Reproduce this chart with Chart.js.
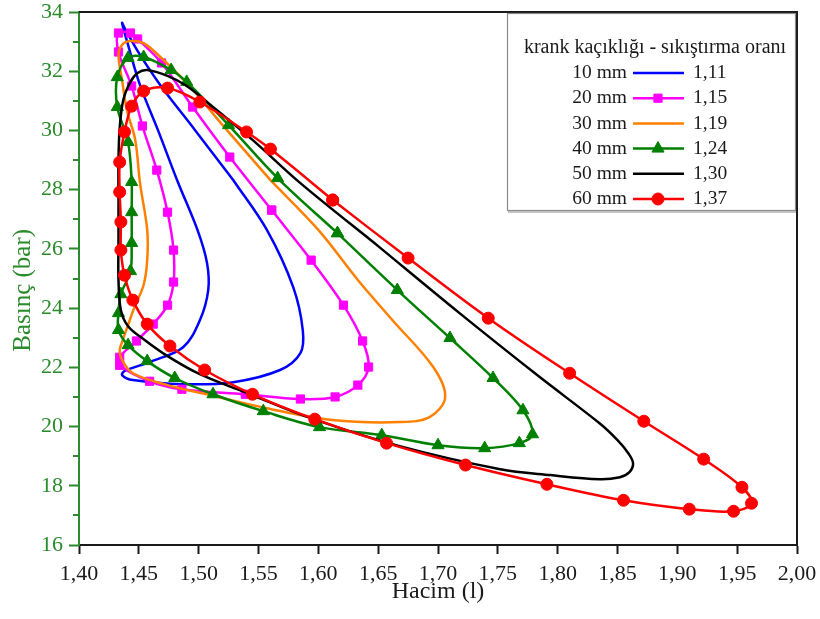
<!DOCTYPE html>
<html>
<head>
<meta charset="utf-8">
<script src="https://cdn.jsdelivr.net/npm/chart.js@4.4.1/dist/chart.umd.min.js"></script>
<style>
  html, body { margin: 0; padding: 0; background: #ffffff; }
  #wrap { width: 820px; height: 619px; }
</style>
</head>
<body>
<div id="wrap"><canvas id="pv" width="820" height="619"></canvas></div>
<script>
// P-V loops (Hacim in litres, Basınç in bar) for each crank offset
const vol10  = [1.529,1.557,1.579,1.587,1.585,1.568,1.529,1.487,1.445,1.436,1.438,1.459,1.487,1.501,1.508,1.507,1.499,1.482,1.466,1.451,1.441,1.436,1.439,1.451,1.468,1.497,1.529];
const pres10 = [28.32,26.64,24.71,23.26,22.48,21.91,21.50,21.43,21.57,21.74,21.87,22.18,22.68,23.59,24.61,25.52,26.64,28.32,30.01,31.53,32.89,33.63,33.39,32.55,31.53,30.01,28.32];

const vol20  = [1.561,1.594,1.621,1.637,1.642,1.633,1.614,1.585,1.539,1.486,1.459,1.434,1.434,1.448,1.462,1.474,1.479,1.479,1.474,1.465,1.453,1.444,1.433,1.433,1.443,1.449,1.469,1.495,1.526,1.561];
const pres20 = [27.31,25.62,24.10,22.89,22.01,21.40,21.00,20.93,21.09,21.26,21.53,22.07,22.34,22.89,23.46,24.10,24.88,25.96,27.24,28.66,30.15,31.50,32.65,33.29,33.29,33.09,32.28,30.79,29.10,27.31];

const vol30  = [1.560,1.600,1.633,1.662,1.696,1.706,1.693,1.668,1.612,1.557,1.510,1.474,1.445,1.436,1.434,1.436,1.441,1.447,1.454,1.457,1.457,1.451,1.447,1.440,1.436,1.433,1.436,1.443,1.454,1.468,1.493,1.520,1.560];
const pres30 = [28.32,26.64,24.95,23.59,22.01,20.99,20.32,20.15,20.22,20.62,21.06,21.40,21.80,22.24,22.58,22.85,23.43,24.10,24.78,25.62,26.64,28.22,29.68,30.69,31.70,32.55,32.89,33.02,32.95,32.48,31.47,30.18,28.32];

const vol40  = [1.616,1.666,1.710,1.746,1.771,1.779,1.768,1.739,1.700,1.653,1.601,1.554,1.512,1.480,1.457,1.441,1.433,1.433,1.435,1.443,1.444,1.444,1.444,1.441,1.432,1.432,1.441,1.454,1.477,1.490,1.525,1.566,1.616];
const pres40 = [26.53,24.61,22.99,21.64,20.55,19.74,19.44,19.27,19.37,19.71,19.98,20.52,21.09,21.64,22.21,22.75,23.26,23.83,24.47,25.25,26.20,27.24,28.26,29.61,30.79,31.80,32.45,32.48,32.04,31.64,30.18,28.39,26.53];

const vol50  = [1.651,1.718,1.785,1.835,1.850,1.859,1.863,1.860,1.852,1.835,1.794,1.752,1.668,1.596,1.543,1.501,1.474,1.454,1.441,1.435,1.433,1.433,1.433,1.433,1.434,1.437,1.443,1.449,1.457,1.474,1.490,1.510,1.545,1.585,1.651];
const pres50 = [26.06,23.83,21.67,20.11,19.54,19.10,18.76,18.46,18.29,18.22,18.36,18.56,19.34,20.25,21.09,21.77,22.38,22.95,23.39,23.93,24.95,26.30,27.65,29.00,30.08,31.03,31.64,31.94,32.04,31.84,31.50,30.86,29.68,28.22,26.06];

const vol60  = [1.612,1.675,1.742,1.810,1.872,1.922,1.954,1.962,1.947,1.910,1.855,1.791,1.723,1.657,1.597,1.545,1.505,1.476,1.457,1.445,1.438,1.435,1.435,1.434,1.434,1.438,1.444,1.454,1.474,1.501,1.540,1.560,1.612];
const pres60 = [27.65,25.69,23.66,21.80,20.18,18.90,17.95,17.41,17.14,17.21,17.51,18.05,18.70,19.44,20.25,21.09,21.91,22.72,23.46,24.27,25.11,25.96,26.91,27.92,28.93,29.95,30.82,31.33,31.43,30.96,29.95,29.37,27.65];

const offsets = ['10 mm', '20 mm', '30 mm', '40 mm', '50 mm', '60 mm'];
const ratios  = ['1,11', '1,15', '1,19', '1,24', '1,30', '1,37'];
const xTickValues = [1.40, 1.45, 1.50, 1.55, 1.60, 1.65, 1.70, 1.75, 1.80, 1.85, 1.90, 1.95, 2.00];
const yTickValues = [16, 18, 20, 22, 24, 26, 28, 30, 32, 34];
const yTitle = 'Basınç (bar)';
const xTitle = 'Hacim (l)';
const legendTitle = 'krank kaçıklığı - sıkıştırma oranı';

const SERIF = '"Liberation Serif", "DejaVu Serif", serif';
const AXIS_GREEN = '#2b8a2b';
const INK = '#1a1a1a';

const styles = [
  { color: '#0000ff', point: 'circle',   radius: 0 },
  { color: '#ff00ff', point: 'rect',     radius: 5.8 },
  { color: '#ff8000', point: 'circle',   radius: 0 },
  { color: '#008000', point: 'triangle', radius: 7 },
  { color: '#000000', point: 'circle',   radius: 0 },
  { color: '#ff0000', point: 'circle',   radius: 6 }
];

const loops = [[vol10, pres10], [vol20, pres20], [vol30, pres30], [vol40, pres40], [vol50, pres50], [vol60, pres60]];

const datasets = loops.map(([vx, py], i) => ({
  label: offsets[i] + ' ' + ratios[i],
  data: vx.map((v, k) => ({ x: v, y: py[k] })),
  showLine: true,
  borderColor: styles[i].color,
  backgroundColor: styles[i].color,
  borderWidth: 2.5,
  tension: 0.35,
  pointStyle: styles[i].point,
  pointRadius: styles[i].radius,
  pointHoverRadius: styles[i].radius,
  pointBorderWidth: 1,
  order: 6 - i
}));

// Frame on top/right, minor ticks and title of the pressure axis, and the boxed legend
const decorations = {
  id: 'decorations',
  afterDraw(chart) {
    const { ctx, chartArea: a, scales } = chart;
    ctx.save();
    // frame
    ctx.strokeStyle = INK;
    ctx.lineWidth = 2;
    ctx.beginPath();
    ctx.moveTo(a.left, a.top);
    ctx.lineTo(a.right, a.top);
    ctx.lineTo(a.right, a.bottom);
    ctx.stroke();

    // minor ticks at odd pressures
    ctx.strokeStyle = AXIS_GREEN;
    ctx.lineWidth = 2;
    for (let v = 17; v < 34; v += 2) {
      const y = Math.round(scales.y.getPixelForValue(v));
      ctx.beginPath();
      ctx.moveTo(a.left - 6, y);
      ctx.lineTo(a.left, y);
      ctx.stroke();
    }

    // pressure axis title, set a little below the axis middle
    ctx.save();
    ctx.translate(23, scales.y.getPixelForValue(24.6));
    ctx.rotate(-Math.PI / 2);
    ctx.fillStyle = AXIS_GREEN;
    ctx.font = '25px ' + SERIF;
    ctx.textAlign = 'center';
    ctx.textBaseline = 'middle';
    ctx.fillText(yTitle, 0, 0);
    ctx.restore();

    // legend box
    const bx = a.right - 290, by = a.top + 1, bw = 288, bh = 197;
    ctx.fillStyle = '#ffffff';
    ctx.fillRect(bx, by, bw, bh);
    ctx.strokeStyle = '#8a8a8a';
    ctx.lineWidth = 1.2;
    ctx.strokeRect(bx + 0.5, by + 0.5, bw, bh);
    ctx.strokeStyle = '#b0b0b0';
    ctx.lineWidth = 1.5;
    ctx.beginPath();
    ctx.moveTo(bx + 1, by + bh + 2);
    ctx.lineTo(bx + bw + 1, by + bh + 2);
    ctx.stroke();

    ctx.fillStyle = INK;
    ctx.textBaseline = 'middle';
    ctx.textAlign = 'center';
    ctx.font = '20px ' + SERIF;
    ctx.fillText(legendTitle, bx + 148, by + 35);

    ctx.font = '19.5px ' + SERIF;
    for (let i = 0; i < offsets.length; i++) {
      const ry = by + 60 + i * 25.2;
      ctx.fillStyle = INK;
      ctx.textAlign = 'right';
      ctx.fillText(offsets[i], bx + 120, ry);
      ctx.textAlign = 'left';
      ctx.fillText(ratios[i], bx + 186, ry);
      ctx.strokeStyle = styles[i].color;
      ctx.lineWidth = 2.5;
      ctx.beginPath();
      ctx.moveTo(bx + 126, ry);
      ctx.lineTo(bx + 177, ry);
      ctx.stroke();
      if (styles[i].radius > 0) {
        ctx.fillStyle = styles[i].color;
        ctx.strokeStyle = styles[i].color;
        ctx.lineWidth = 1;
        Chart.helpers.drawPoint(ctx, { pointStyle: styles[i].point, radius: styles[i].radius, rotation: 0, borderWidth: 1 }, bx + 151, ry);
      }
    }
    ctx.restore();
  }
};

new Chart(document.getElementById('pv'), {
  type: 'scatter',
  data: { datasets },
  options: {
    responsive: false,
    animation: false,
    events: [],
    layout: { padding: { top: 12, right: 23, left: 0, bottom: 0 } },
    plugins: { legend: { display: false }, tooltip: { enabled: false } },
    scales: {
      x: {
        type: 'linear',
        min: 1.40,
        max: 2.00,
        afterBuildTicks: s => { s.ticks = xTickValues.map(v => ({ value: v })); },
        afterFit: s => { s.height = 74; s.paddingLeft = 0; s.paddingRight = 0; },
        ticks: {
          color: INK,
          font: { family: SERIF, size: 22, lineHeight: 1 },
          padding: 9,
          maxRotation: 0,
          autoSkip: false,
          callback: v => Number(v).toFixed(2).replace('.', ',')
        },
        grid: { drawOnChartArea: false, drawTicks: true, tickLength: 9, tickWidth: 2, tickColor: INK },
        border: { display: true, color: INK, width: 2 },
        title: { display: true, text: xTitle, color: INK, font: { family: SERIF, size: 24 }, padding: { top: 0, bottom: 13 } }
      },
      y: {
        type: 'linear',
        min: 16,
        max: 34,
        afterBuildTicks: s => { s.ticks = yTickValues.map(v => ({ value: v })); },
        afterFit: s => { s.width = 79; s.paddingTop = 0; s.paddingBottom = 0; },
        ticks: {
          color: AXIS_GREEN,
          font: { family: SERIF, size: 22, lineHeight: 1 },
          padding: 6,
          autoSkip: false,
          callback: v => String(v)
        },
        grid: { drawOnChartArea: false, drawTicks: true, tickLength: 10, tickWidth: 2, tickColor: AXIS_GREEN },
        border: { display: true, color: AXIS_GREEN, width: 2 },
        title: { display: false }
      }
    }
  },
  plugins: [decorations]
});
</script>
</body>
</html>
